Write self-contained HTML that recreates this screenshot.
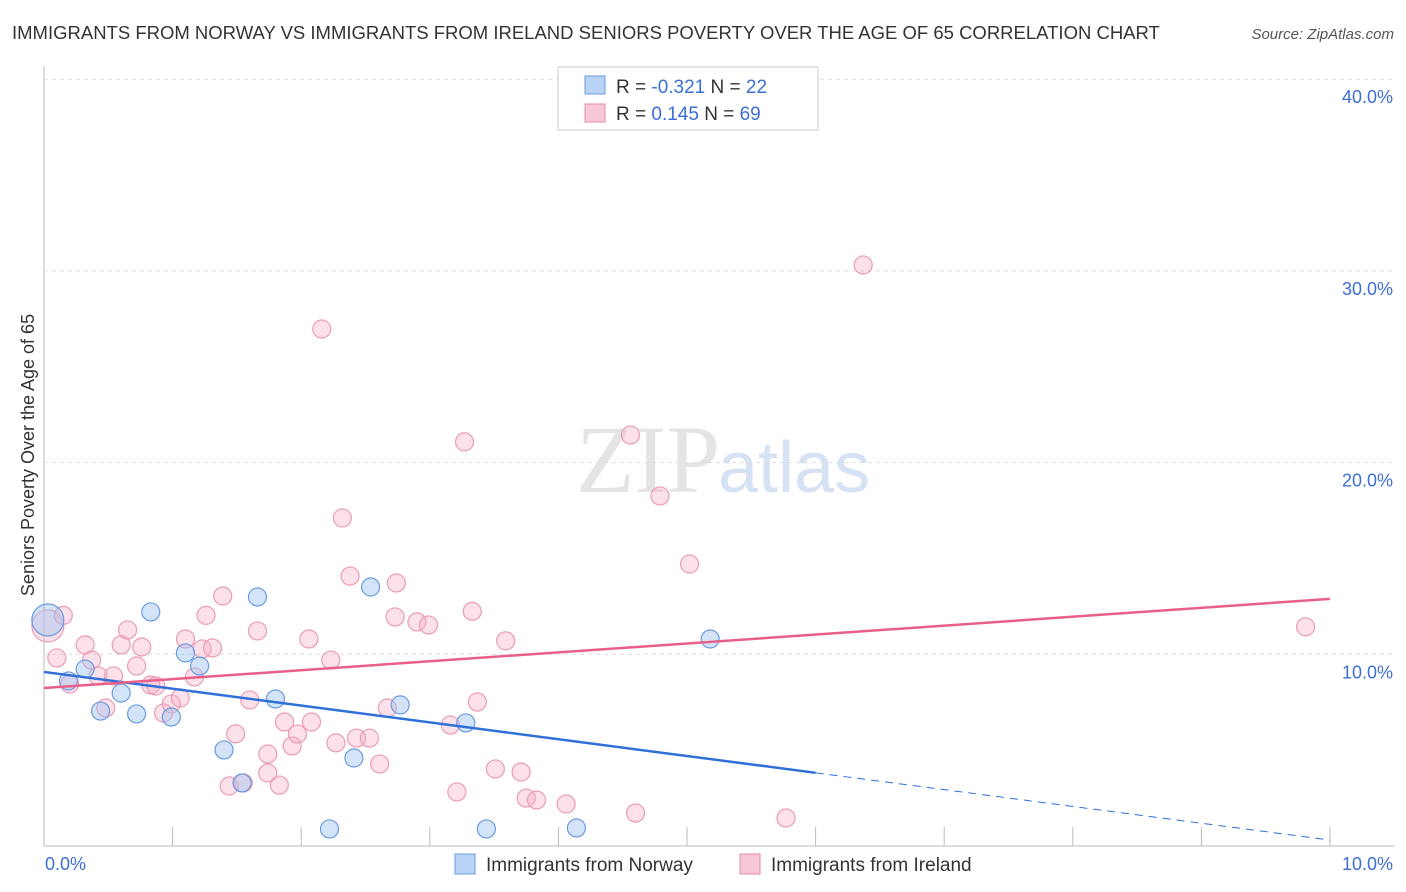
<!DOCTYPE html>
<html><head><meta charset="utf-8"><style>
body{margin:0;background:#fff;font-family:"Liberation Sans",sans-serif;}
#wrap{position:relative;width:1406px;height:892px;overflow:hidden;}
</style></head><body>
<div id="wrap">
<svg id="svg" width="1406" height="892" xmlns="http://www.w3.org/2000/svg">
<text x="12" y="39" font-size="18.5" fill="#333">IMMIGRANTS FROM NORWAY VS IMMIGRANTS FROM IRELAND SENIORS POVERTY OVER THE AGE OF 65 CORRELATION CHART</text>
<text x="1394" y="39" font-size="15" fill="#555" font-style="italic" text-anchor="end">Source: ZipAtlas.com</text>
<text x="720" y="492" font-size="96" fill="#e4e4e4" text-anchor="end" font-family="Liberation Serif,serif">ZIP</text>
<text x="718" y="492" font-size="72" fill="#d4e2f4">atlas</text>
<text transform="translate(34,455) rotate(-90)" font-size="18" fill="#333" text-anchor="middle">Seniors Poverty Over the Age of 65</text>
<g id="grid"></g><g id="pts"></g><g id="lines"></g>
<g>
<rect x="558" y="67" width="260" height="63" fill="#fff" stroke="#ccc"/>
<rect x="585" y="76" width="20" height="18" fill="#b8d3f5" stroke="#6a9be0"/>
<rect x="585" y="104" width="20" height="18" fill="#f9c8d8" stroke="#e88aa8"/>
<text x="616" y="93" font-size="19" fill="#333">R = <tspan fill="#3b6fd4">-0.321</tspan>   N = <tspan fill="#3b6fd4">22</tspan></text>
<text x="616" y="120" font-size="19" fill="#333">R =  <tspan fill="#3b6fd4">0.145</tspan>   N = <tspan fill="#3b6fd4">69</tspan></text>
</g>
<g>
<rect x="455" y="854" width="20" height="20" fill="#b8d3f5" stroke="#6a9be0"/>
<text x="486" y="871" font-size="19" fill="#333">Immigrants from Norway</text>
<rect x="740" y="854" width="20" height="20" fill="#f9c8d8" stroke="#e88aa8"/>
<text x="771" y="871" font-size="19" fill="#333">Immigrants from Ireland</text>
</g>
</svg>
</div>
<script>
const yTicks=[10,20,30,40];
const yTickLabels=["10.0%","20.0%","30.0%","40.0%"];
const xTickLabels=["0.0%","10.0%"];
const norwayX=[0.03,0.19,0.32,0.44,0.60,0.72,0.83,0.99,1.10,1.21,1.40,1.54,1.66,1.80,2.22,2.41,2.54,2.77,3.28,3.44,4.14,5.18];
const norwayY=[11.79,8.61,9.23,7.04,7.98,6.89,12.21,6.73,10.07,9.39,5.01,3.29,12.99,7.67,0.89,4.59,13.51,7.36,6.42,0.89,0.94,10.8];
const irelandX=[0.03,0.1,0.15,0.2,0.32,0.37,0.42,0.48,0.54,0.6,0.65,0.72,0.76,0.83,0.87,0.93,0.99,1.06,1.1,1.17,1.23,1.26,1.31,1.39,1.44,1.49,1.55,1.6,1.66,1.74,1.74,1.83,1.87,1.93,1.97,2.06,2.08,2.16,2.23,2.27,2.32,2.38,2.43,2.53,2.61,2.67,2.73,2.74,2.9,2.99,3.16,3.21,3.27,3.33,3.37,3.51,3.59,3.71,3.75,3.83,4.06,4.56,4.6,4.79,5.02,5.77,6.37,9.81];
const irelandY=[11.48,9.81,12.03,8.45,10.49,9.7,8.87,7.2,8.87,10.49,11.27,9.39,10.38,8.4,8.35,6.94,7.41,7.72,10.8,8.82,10.28,12.03,10.33,13.04,3.13,5.85,3.29,7.62,11.22,4.8,3.81,3.18,6.47,5.22,5.84,10.8,6.47,26.97,9.7,5.38,17.11,14.08,5.63,5.63,4.28,7.2,11.95,13.72,11.69,11.53,6.31,2.82,21.08,12.24,7.51,4.02,10.7,3.86,2.5,2.4,2.19,21.44,1.72,18.26,14.71,1.46,30.31,11.43];
const norwayTrend=[9.08,0.31];
const irelandTrend=[8.24,12.89];
const X0=44,X1=1330,Y0=846,PY=19.17;
const sx=v=>X0+(X1-X0)*v/10, sy=v=>Y0-v*PY;
const NS="http://www.w3.org/2000/svg";
function mk(tag,attrs,parent){const e=document.createElementNS(NS,tag);for(const k in attrs)e.setAttribute(k,attrs[k]);document.getElementById(parent).appendChild(e);return e;}
let e;
e=mk('line',{x1:44,y1:66,x2:44,y2:846,stroke:'#bbb'},'grid');


e=mk('line',{x1:44,y1:846,x2:1394,y2:846,stroke:'#bbb'},'grid');


for(let i=0;i<=10;i++){
 e=mk('line',{x1:sx(i),y1:827,x2:sx(i),y2:846,stroke:'#bbb'},'grid');
 
 
}
yTicks.forEach((t,i)=>{
 e=mk('line',{x1:44,y1:sy(t),x2:1394,y2:sy(t),stroke:'#ddd','stroke-dasharray':'4,4'},'grid');
 
 
 e=mk('text',{x:1393,y:sy(t)+24,'font-size':18,fill:'#3b6fd4','text-anchor':'end'},'grid');
 e.textContent=yTickLabels[i];
 
 
});
e=mk('text',{x:45,y:870,'font-size':18,fill:'#3b6fd4'},'grid');e.textContent=xTickLabels[0];


e=mk('text',{x:1393,y:870,'font-size':18,fill:'#3b6fd4','text-anchor':'end'},'grid');e.textContent=xTickLabels[1];


irelandX.forEach((x,i)=>{
 e=mk('circle',{cx:sx(x),cy:sy(irelandY[i]),r:i==0?16:9,fill:'rgba(245,170,195,0.35)',stroke:'#eb9bb5','stroke-width':1.2},'pts');
 
 
});
norwayX.forEach((x,i)=>{
 e=mk('circle',{cx:sx(x),cy:sy(norwayY[i]),r:i==0?16:9,fill:'rgba(160,195,240,0.45)',stroke:'#6a9be0','stroke-width':1.2},'pts');
 
 
});
const nAt=x=>norwayTrend[0]+(norwayTrend[1]-norwayTrend[0])*x/10;
e=mk('line',{x1:sx(0),y1:sy(nAt(0)),x2:sx(6),y2:sy(nAt(6)),stroke:'#2f6fd8','stroke-width':2.5},'lines');


e=mk('line',{x1:sx(6),y1:sy(nAt(6)),x2:sx(10),y2:sy(nAt(10)),stroke:'#2f6fd8','stroke-width':1,'stroke-dasharray':'8,6'},'lines');


e=mk('line',{x1:sx(0),y1:sy(irelandTrend[0]),x2:sx(10),y2:sy(irelandTrend[1]),stroke:'#e8608a','stroke-width':2.5},'lines');


</script>
</body></html>
